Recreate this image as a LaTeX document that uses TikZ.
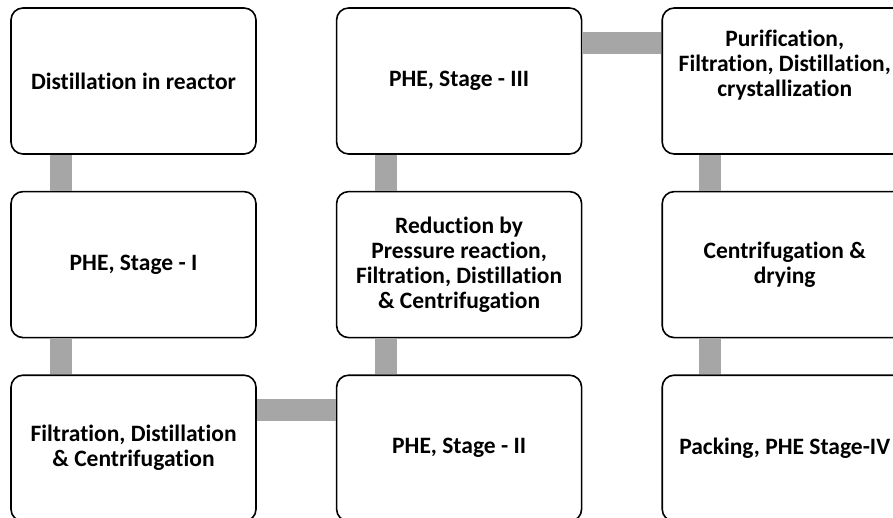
\documentclass[tikz,border=0pt]{standalone}
\usepackage{fontspec}
\setmainfont{Carlito}[Ligatures=NoCommon]
\usetikzlibrary{positioning}

\definecolor{linkgray}{HTML}{A6A6A6}

\begin{document}
\begin{tikzpicture}[x=1pt, y=-1pt]
			\tikzset {node distance=36pt and 79pt,
				stage/.style={draw, line width=1.6pt, rounded corners=12pt, fill=white, minimum width=245pt, minimum height=146pt, align=center, font=\bfseries\fontsize{23.5}{25}\selectfont, inner sep=2pt},
				link/.style={draw=linkgray, line width=22pt} }
			\useasboundingbox (0,0) rectangle (893,518);
			
			\node[stage] (dist) at (133.5,81) {Distillation in reactor};
			\node[stage, below=of dist] (phe1) {PHE, Stage - I};
			\node[stage, below=of phe1] (fdc) {Filtration, Distillation\\ \& Centrifugation};
			\node[stage, right=of fdc] (phe2) {PHE, Stage - II};
			\node[stage, above=of phe2] (red) {Reduction by\\ Pressure reaction,\\ Filtration, Distillation\\ \& Centrifugation};
			\node[stage, above=of red] (phe3) {PHE, Stage - III};
			\node[stage, right=of phe3] (pur) {Purification,\\ Filtration, Distillation,\\ crystallization\\[10pt] \mbox{}};
			\node[stage, below=of pur] (cen) {Centrifugation \&\\ drying};
			\node[stage, below=of cen] (pack) {Packing, PHE Stage-IV};
			
			% gray links between the stages
			\draw[link] ([xshift=51pt]dist.south west) -- ([xshift=51pt]phe1.north west);
			\draw[link] ([xshift=51pt]phe1.south west) -- ([xshift=51pt]fdc.north west);
			\draw[link] ([yshift=-36pt]fdc.north east) -- ([yshift=-36pt]phe2.north west);
			\draw[link] ([xshift=50pt]phe2.north west) -- ([xshift=50pt]red.south west);
			\draw[link] ([xshift=50pt]red.north west) -- ([xshift=50pt]phe3.south west);
			\draw[link] ([yshift=-36pt]phe3.north east) -- ([yshift=-36pt]pur.north west);
			\draw[link] ([xshift=49pt]pur.south west) -- ([xshift=49pt]cen.north west);
			\draw[link] ([xshift=49pt]cen.south west) -- ([xshift=49pt]pack.north west);
		\end{tikzpicture}
\end{document}
